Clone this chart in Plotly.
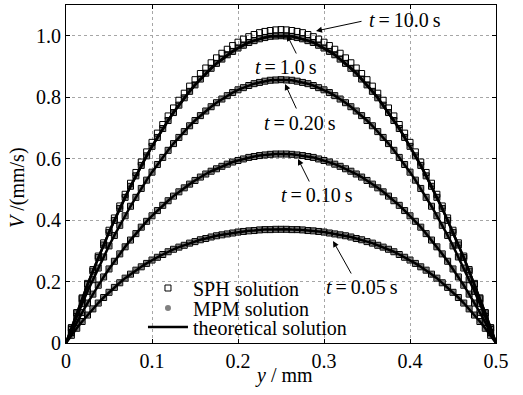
import plotly.graph_objects as go

FONT = "Liberation Serif"

# particle positions across the channel (mm)
y_pos = [0.00625, 0.0125, 0.01875, 0.025, 0.03125, 0.0375, 0.04375, 0.05, 0.05625, 0.0625,
         0.06875, 0.075, 0.08125, 0.0875, 0.09375, 0.1, 0.10625, 0.1125, 0.11875, 0.125,
         0.13125, 0.1375, 0.14375, 0.15, 0.15625, 0.1625, 0.16875, 0.175, 0.18125, 0.1875,
         0.19375, 0.2, 0.20625, 0.2125, 0.21875, 0.225, 0.23125, 0.2375, 0.24375, 0.25,
         0.25625, 0.2625, 0.26875, 0.275, 0.28125, 0.2875, 0.29375, 0.3, 0.30625, 0.3125,
         0.31875, 0.325, 0.33125, 0.3375, 0.34375, 0.35, 0.35625, 0.3625, 0.36875, 0.375,
         0.38125, 0.3875, 0.39375, 0.4, 0.40625, 0.4125, 0.41875, 0.425, 0.43125, 0.4375,
         0.44375, 0.45, 0.45625, 0.4625, 0.46875, 0.475, 0.48125, 0.4875, 0.49375]

# velocity profiles (mm/s)
v_t005 = [0.025, 0.048, 0.070, 0.091, 0.111, 0.130, 0.148, 0.165, 0.181, 0.196,
          0.211, 0.224, 0.237, 0.248, 0.259, 0.270, 0.279, 0.288, 0.297, 0.305,
          0.312, 0.318, 0.325, 0.330, 0.336, 0.340, 0.345, 0.349, 0.352, 0.355,
          0.358, 0.361, 0.363, 0.365, 0.366, 0.368, 0.369, 0.369, 0.370, 0.370,
          0.370, 0.369, 0.369, 0.368, 0.366, 0.365, 0.363, 0.361, 0.358, 0.355,
          0.352, 0.349, 0.345, 0.340, 0.336, 0.330, 0.325, 0.318, 0.312, 0.305,
          0.297, 0.288, 0.279, 0.270, 0.259, 0.248, 0.237, 0.224, 0.211, 0.196,
          0.181, 0.165, 0.148, 0.130, 0.111, 0.091, 0.070, 0.048, 0.025]

v_t010 = [0.034, 0.067, 0.099, 0.130, 0.159, 0.188, 0.215, 0.241, 0.266, 0.290,
          0.313, 0.335, 0.356, 0.377, 0.396, 0.414, 0.431, 0.448, 0.463, 0.478,
          0.492, 0.505, 0.517, 0.529, 0.540, 0.550, 0.559, 0.567, 0.575, 0.582,
          0.589, 0.594, 0.599, 0.604, 0.607, 0.610, 0.612, 0.614, 0.615, 0.615,
          0.615, 0.614, 0.612, 0.610, 0.607, 0.604, 0.599, 0.594, 0.589, 0.582,
          0.575, 0.567, 0.559, 0.550, 0.540, 0.529, 0.517, 0.505, 0.492, 0.478,
          0.463, 0.448, 0.431, 0.414, 0.396, 0.377, 0.356, 0.335, 0.313, 0.290,
          0.266, 0.241, 0.215, 0.188, 0.159, 0.130, 0.099, 0.067, 0.034]

v_t020 = [0.044, 0.086, 0.128, 0.168, 0.206, 0.244, 0.280, 0.316, 0.350, 0.383,
          0.414, 0.445, 0.474, 0.503, 0.530, 0.556, 0.581, 0.604, 0.627, 0.649,
          0.669, 0.688, 0.707, 0.724, 0.740, 0.755, 0.769, 0.782, 0.794, 0.805,
          0.815, 0.824, 0.831, 0.838, 0.844, 0.848, 0.852, 0.855, 0.856, 0.857,
          0.856, 0.855, 0.852, 0.848, 0.844, 0.838, 0.831, 0.824, 0.815, 0.805,
          0.794, 0.782, 0.769, 0.755, 0.740, 0.724, 0.707, 0.688, 0.669, 0.649,
          0.627, 0.604, 0.581, 0.556, 0.530, 0.503, 0.474, 0.445, 0.414, 0.383,
          0.350, 0.316, 0.280, 0.244, 0.206, 0.168, 0.128, 0.086, 0.044]

v_t100 = [0.049, 0.098, 0.144, 0.190, 0.234, 0.278, 0.319, 0.360, 0.399, 0.438,
          0.474, 0.510, 0.544, 0.578, 0.609, 0.640, 0.669, 0.698, 0.724, 0.750,
          0.774, 0.798, 0.819, 0.840, 0.859, 0.878, 0.894, 0.910, 0.924, 0.938,
          0.949, 0.960, 0.969, 0.978, 0.984, 0.990, 0.994, 0.998, 0.999, 1.000,
          0.999, 0.998, 0.994, 0.990, 0.984, 0.978, 0.969, 0.960, 0.949, 0.938,
          0.924, 0.910, 0.894, 0.878, 0.859, 0.840, 0.819, 0.798, 0.774, 0.750,
          0.724, 0.698, 0.669, 0.640, 0.609, 0.578, 0.544, 0.510, 0.474, 0.438,
          0.399, 0.360, 0.319, 0.278, 0.234, 0.190, 0.144, 0.098, 0.049]

v_t1000 = [0.049, 0.098, 0.144, 0.190, 0.234, 0.278, 0.319, 0.360, 0.399, 0.438,
           0.474, 0.510, 0.544, 0.578, 0.609, 0.640, 0.669, 0.698, 0.724, 0.750,
           0.774, 0.798, 0.819, 0.840, 0.859, 0.878, 0.894, 0.910, 0.924, 0.938,
           0.949, 0.960, 0.969, 0.978, 0.984, 0.990, 0.994, 0.998, 0.999, 1.000,
           0.999, 0.998, 0.994, 0.990, 0.984, 0.978, 0.969, 0.960, 0.949, 0.938,
           0.924, 0.910, 0.894, 0.878, 0.859, 0.840, 0.819, 0.798, 0.774, 0.750,
           0.724, 0.698, 0.669, 0.640, 0.609, 0.578, 0.544, 0.510, 0.474, 0.438,
           0.399, 0.360, 0.319, 0.278, 0.234, 0.190, 0.144, 0.098, 0.049]

# SPH at t = 10.0 s sits slightly above the theoretical profile
sph_t1000 = [0.050, 0.099, 0.147, 0.194, 0.239, 0.283, 0.326, 0.367, 0.407, 0.446,
             0.484, 0.520, 0.555, 0.589, 0.622, 0.653, 0.683, 0.711, 0.739, 0.765,
             0.790, 0.813, 0.836, 0.857, 0.877, 0.895, 0.912, 0.928, 0.943, 0.956,
             0.968, 0.979, 0.989, 0.997, 1.004, 1.010, 1.014, 1.017, 1.019, 1.020,
             1.019, 1.017, 1.014, 1.010, 1.004, 0.997, 0.989, 0.979, 0.968, 0.956,
             0.943, 0.928, 0.912, 0.895, 0.877, 0.857, 0.836, 0.813, 0.790, 0.765,
             0.739, 0.711, 0.683, 0.653, 0.622, 0.589, 0.555, 0.520, 0.484, 0.446,
             0.407, 0.367, 0.326, 0.283, 0.239, 0.194, 0.147, 0.099, 0.050]

wall_left, wall_right = 0.0, 0.5

mpm_sets = [v_t005, v_t010, v_t020, v_t100, v_t1000]
sph_sets = [v_t005, v_t010, v_t020, v_t100, sph_t1000]
theory_sets = [v_t005, v_t010, v_t020, v_t100, v_t1000]

x_ticks = [0, 0.1, 0.2, 0.3, 0.4, 0.5]
x_labels = ["0", "0.1", "0.2", "0.3", "0.4", "0.5"]
y_ticks = [0, 0.2, 0.4, 0.6, 0.8, 1.0]
y_labels = ["0", "0.2", "0.4", "0.6", "0.8", "1.0"]

fig = go.Figure()

for i, vals in enumerate(mpm_sets):
    fig.add_trace(go.Scatter(
        x=y_pos, y=vals, mode="markers", name="MPM solution",
        marker=dict(symbol="circle", size=6, color="#808080", line=dict(width=0)),
        showlegend=(i == 0), legend="legend2"))

for i, vals in enumerate(sph_sets):
    fig.add_trace(go.Scatter(
        x=y_pos, y=vals, mode="markers", name="SPH solution",
        marker=dict(symbol="square-open", size=6, color="black", line=dict(width=1)),
        showlegend=(i == 0), legend="legend"))

for i, vals in enumerate(theory_sets):
    fig.add_trace(go.Scatter(
        x=[wall_left] + y_pos + [wall_right], y=[0.0] + vals + [0.0],
        mode="lines", name="theoretical solution",
        line=dict(color="black", width=2.5),
        showlegend=(i == 0), legend="legend3"))

axis_common = dict(
    showline=True, linecolor="black", linewidth=1, mirror="ticks",
    ticks="inside", ticklen=4, tickcolor="black", tickwidth=1,
    showgrid=True, gridcolor="#a6a6a6", griddash="dot", gridwidth=1,
    zeroline=False, tickfont=dict(family=FONT, size=20, color="black"),
)

fig.update_layout(
    width=523, height=395,
    margin=dict(l=66, r=27, t=5, b=52),
    paper_bgcolor="white", plot_bgcolor="white",
    font=dict(family=FONT, size=20, color="black"),
    xaxis=dict(range=[0, 0.5], tickvals=x_ticks, ticktext=x_labels, **axis_common),
    yaxis=dict(range=[0, 1.1], tickvals=y_ticks, ticktext=y_labels, **axis_common),
)

leg_common = dict(xanchor="left", yanchor="middle", bgcolor="rgba(0,0,0,0)",
                  borderwidth=0, itemwidth=40, font=dict(family=FONT, size=20, color="black"))
fig.update_layout(
    legend=dict(x=0.179, y=0.1627, **leg_common),
    legend2=dict(x=0.179, y=0.1036, **leg_common),
    legend3=dict(x=0.179, y=0.0473, **leg_common),
)

ann_font = dict(family=FONT, size=20, color="black")
labels = [
    ("<i>t</i>\u2009=\u200910.0\u2009s", 0.3942, 1.0512),
    ("<i>t</i>\u2009=\u20091.0\u2009s", 0.2558, 0.8982),
    ("<i>t</i>\u2009=\u20090.20\u2009s", 0.2721, 0.716),
    ("<i>t</i>\u2009=\u20090.10\u2009s", 0.2919, 0.4817),
    ("<i>t</i>\u2009=\u20090.05\u2009s", 0.3442, 0.1822),
]
for txt, xx, yy in labels:
    fig.add_annotation(x=xx, y=yy, text=txt, showarrow=False, font=ann_font,
                       xanchor="center", yanchor="middle")

arrows = [
    (0.2907, 1.0154, 47, -10),
    (0.2570, 1.0024, 10, 20),
    (0.2547, 0.8429, 12, 26),
    (0.2698, 0.5988, 12, 24),
    (0.3105, 0.3320, 19, 34),
]
for xx, yy, axp, ayp in arrows:
    fig.add_annotation(x=xx, y=yy, text="", showarrow=True, ax=axp, ay=ayp,
                       arrowhead=2, arrowsize=1.2, arrowwidth=1, arrowcolor="black")

fig.add_annotation(xref="paper", yref="paper", x=-0.1116, y=0.4586,
                   text="<i>V</i> /(mm/s)", textangle=-90, showarrow=False,
                   font=ann_font, xanchor="center", yanchor="middle")
fig.add_annotation(xref="paper", yref="paper", x=0.507, y=-0.0947,
                   text="<i>y</i> / mm", showarrow=False,
                   font=ann_font, xanchor="center", yanchor="middle")

fig.write_html("out.html")
